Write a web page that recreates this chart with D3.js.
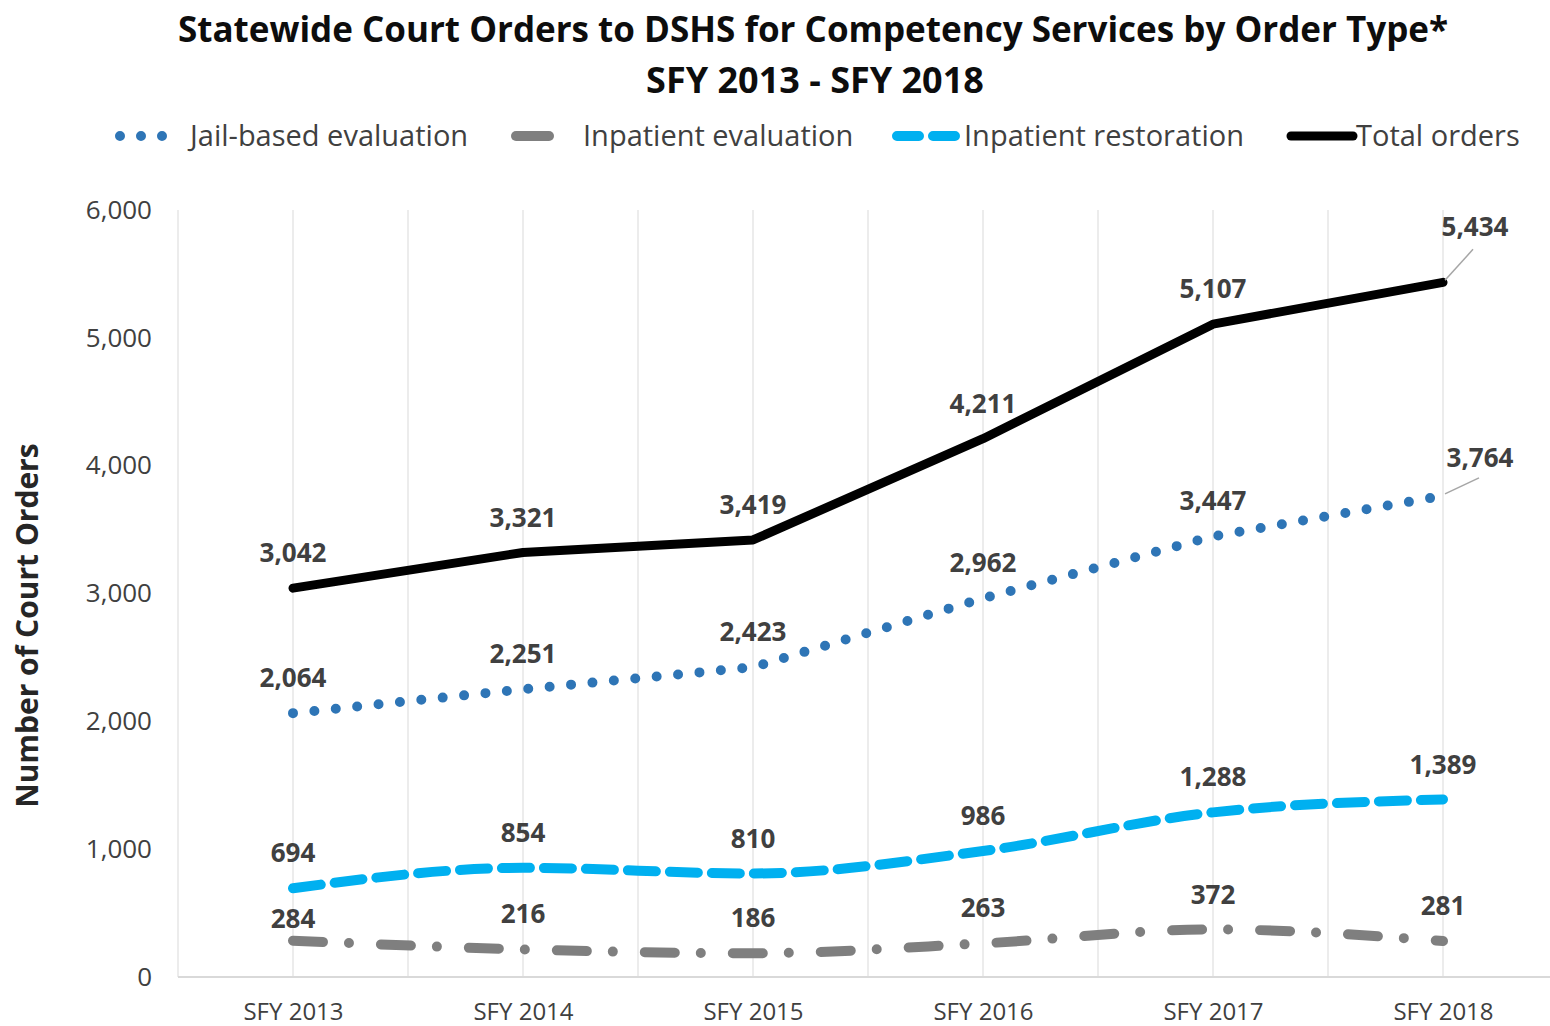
<!DOCTYPE html>
<html>
<head>
<meta charset="utf-8">
<script src="https://cdn.jsdelivr.net/npm/d3@7"></script>
<style>
  body { margin: 0; background: #fff; }
  svg { font-family: "Open Sans", Lato, sans-serif; }
</style>
</head>
<body>
<div id="chart"></div>
<script>
// data
const years = ["SFY 2013", "SFY 2014", "SFY 2015", "SFY 2016", "SFY 2017", "SFY 2018"];
const jailEval        = [2064, 2251, 2423, 2962, 3447, 3764];
const inpatientEval   = [284, 216, 186, 263, 372, 281];
const inpatientRestor = [694, 854, 810, 986, 1288, 1389];
const totalOrders     = [3042, 3321, 3419, 4211, 5107, 5434];
const yTicks = [0, 1000, 2000, 3000, 4000, 5000, 6000];

const width = 1550, height = 1026;
const margin = { top: 210, right: 0, bottom: 49, left: 178 };
const plotRight = 1558;
const font = "'Open Sans', Lato, sans-serif";

const svg = d3.select("#chart").append("svg")
  .attr("width", width).attr("height", height);

const x = d3.scalePoint()
  .domain(years)
  .range([margin.left + 115, plotRight - 115]);
const y = d3.scaleLinear()
  .domain([0, 6000])
  .range([height - margin.bottom, margin.top]);

const step = x.step();

// vertical gridlines (centers + boundaries)
const gridXs = [];
years.forEach(d => { gridXs.push(x(d) - step / 2); gridXs.push(x(d)); });
gridXs.push(x(years[years.length - 1]) + step / 2);
svg.append("g").selectAll("line")
  .data(gridXs)
  .join("line")
    .attr("x1", d => d).attr("x2", d => d)
    .attr("y1", y(6000)).attr("y2", y(0))
    .attr("stroke", "#e6e6e6").attr("stroke-width", 1.5);

// x axis
const xAxis = svg.append("g")
  .attr("transform", `translate(0,${y(0)})`)
  .call(d3.axisBottom(x).tickSize(0).tickPadding(26));
xAxis.select(".domain")
  .attr("d", `M${margin.left},0H${width}`)
  .attr("stroke", "#d9d9d9").attr("stroke-width", 2);
xAxis.selectAll("text")
  .attr("font-size", 24).attr("fill", "#404040")
  .attr("font-family", font);

// y axis
const yAxis = svg.append("g")
  .attr("transform", `translate(152,0)`)
  .call(d3.axisLeft(y).tickValues(yTicks).tickSize(0).tickPadding(0).tickFormat(d3.format(",")));
yAxis.select(".domain").remove();
yAxis.selectAll("text")
  .attr("font-size", 26).attr("fill", "#404040")
  .attr("font-family", font);

svg.append("text")
  .attr("transform", `translate(38,${(y(0) + y(6000)) / 2 + 32}) rotate(-90)`)
  .attr("text-anchor", "middle")
  .attr("font-size", 30).attr("font-weight", "bold").attr("fill", "#262626")
  .text("Number of Court Orders");

// title
svg.append("text")
  .attr("x", 813).attr("y", 42)
  .attr("text-anchor", "middle")
  .attr("font-size", 35).attr("font-weight", "bold").attr("fill", "#0d0d0d")
  .text("Statewide Court Orders to DSHS for Competency Services by Order Type*");
svg.append("text")
  .attr("x", 815).attr("y", 93)
  .attr("text-anchor", "middle")
  .attr("font-size", 36).attr("font-weight", "bold").attr("fill", "#0d0d0d")
  .text("SFY 2013 - SFY 2018");

// series (leader: offsets for the last label, which sits off to the side)
const series = [
  { name: "Inpatient evaluation", values: inpatientEval, color: "#7f7f7f", width: 10,
    dash: "30,26,0,32", curve: d3.curveMonotoneX },
  { name: "Inpatient restoration", values: inpatientRestor, color: "#00b0f0", width: 10,
    dash: "28,14", curve: d3.curveMonotoneX },
  { name: "Jail-based evaluation", values: jailEval, color: "#2e75b6", width: 10,
    dash: "0,21.5", curve: d3.curveLinear, leader: { lx: 37, ly: -38, ex: 36, ey: -18 } },
  { name: "Total orders", values: totalOrders, color: "#000000", width: 9,
    dash: null, curve: d3.curveLinear, leader: { lx: 32, ly: -55, ex: 30, ey: -33 } }
];

series.forEach(s => {
  const line = d3.line()
    .x((d, i) => x(years[i]))
    .y(d => y(d))
    .curve(s.curve);
  svg.append("path")
    .datum(s.values)
    .attr("d", line)
    .attr("fill", "none")
    .attr("stroke", s.color)
    .attr("stroke-width", s.width)
    .attr("stroke-linecap", "round")
    .attr("stroke-linejoin", "round")
    .attr("stroke-dasharray", s.dash);
});

// data labels
const labelG = svg.append("g")
  .attr("font-size", 26).attr("font-weight", "bold").attr("fill", "#404040")
  .attr("text-anchor", "middle");

series.forEach(s => {
  s.values.forEach((v, i) => {
    const px = x(years[i]), py = y(v);
    let lx = px, ly = py - 35;
    if (s.name === "Inpatient evaluation" && i === 0) ly = py - 22;
    if (s.leader && i === years.length - 1) {
      lx = px + s.leader.lx; ly = py + s.leader.ly;
      svg.append("line")
        .attr("x1", px + 2).attr("y1", py - 2)
        .attr("x2", px + s.leader.ex).attr("y2", py + s.leader.ey)
        .attr("stroke", "#a6a6a6").attr("stroke-width", 1.5);
    }
    labelG.append("text")
      .attr("x", lx).attr("y", ly)
      .attr("dy", "0.35em")
      .text(d3.format(",")(v));
  });
});

// legend
const legendItems = [
  { name: "Jail-based evaluation", color: "#2e75b6", width: 10, dash: "0,21", x1: 120, x2: 170, tx: 190 },
  { name: "Inpatient evaluation", color: "#7f7f7f", width: 10, dash: null, x1: 516, x2: 549, tx: 583 },
  { name: "Inpatient restoration", color: "#00b0f0", width: 10, dash: "22,14", x1: 897, x2: 960, tx: 964 },
  { name: "Total orders", color: "#000000", width: 9, dash: null, x1: 1291, x2: 1353, tx: 1356 }
];
const legend = svg.append("g");
legendItems.forEach(d => {
  legend.append("line")
    .attr("x1", d.x1).attr("x2", d.x2)
    .attr("y1", 136).attr("y2", 136)
    .attr("stroke", d.color).attr("stroke-width", d.width)
    .attr("stroke-linecap", "round")
    .attr("stroke-dasharray", d.dash);
  legend.append("text")
    .attr("x", d.tx).attr("y", 136).attr("dy", "0.35em")
    .attr("font-size", 29).attr("fill", "#404040")
    .text(d.name);
});
</script>
</body>
</html>
